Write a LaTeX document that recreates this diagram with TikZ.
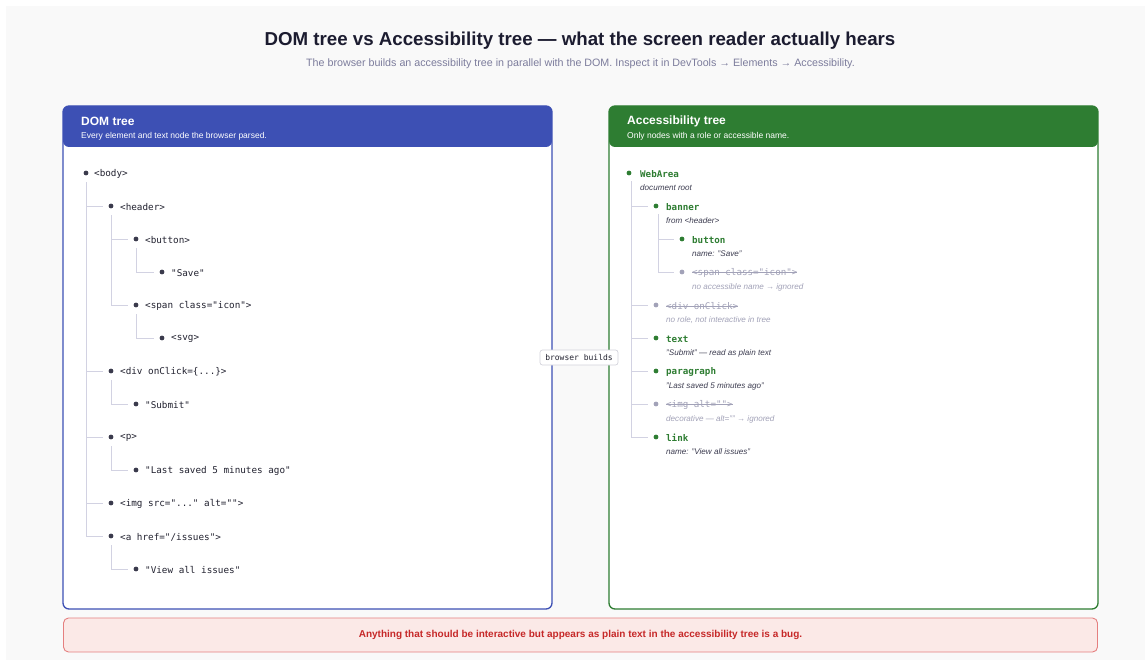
\documentclass[tikz,border=0pt]{standalone}
\usepackage{fontspec}
\setmainfont{Liberation Sans}
\newfontfamily\codefont{DejaVu Sans Mono}
\usetikzlibrary{calc}

% text with a line drawn through it
\newcommand\struckthrough[1]{\setbox0\hbox{#1}\rlap{\rule[0.3em]{\wd0}{0.07em}}\box0}

\definecolor{pagebg}{HTML}{F9F9F9}
\definecolor{titleink}{HTML}{1C1C30}
\definecolor{subink}{HTML}{7C7C9C}
\definecolor{domblue}{HTML}{3D50B4}
\definecolor{axgreen}{HTML}{2E7D32}
\definecolor{treeline}{HTML}{D2D2E2}
\definecolor{dotink}{HTML}{3A3A4C}
\definecolor{codeink}{HTML}{222230}
\definecolor{noteink}{HTML}{3C3C50}
\definecolor{ignored}{HTML}{A2A2B8}
\definecolor{warnfill}{HTML}{FBE9E7}
\definecolor{warnline}{HTML}{E57F7F}
\definecolor{warnink}{HTML}{C62828}
\definecolor{tagline}{HTML}{D4D4DC}

\begin{document}
\begin{tikzpicture}[x=1pt,y=-1pt,
  panel/.style={draw=#1, line width=1.3pt, fill=white, rounded corners=6pt,
    minimum width=489pt, minimum height=503pt, inner sep=0pt,
    path picture={\fill[#1] (path picture bounding box.north west)
      rectangle ([yshift=-41pt]path picture bounding box.north east);}},
  headtitle/.style={anchor=west, inner sep=0pt, text=white, font=\fontsize{12}{14}\selectfont\bfseries},
  headsub/.style={anchor=west, inner sep=0pt, text=white, font=\fontsize{8.5}{10}\selectfont},
  dot/.style={circle, fill=#1, inner sep=0pt, minimum size=4.8pt, outer sep=0pt},
  dot/.default=dotink,
  code/.style={anchor=west, inner sep=0pt, yshift=-1pt, text=codeink, font=\codefont\fontsize{9.3}{11}\selectfont},
  role/.style={anchor=west, inner sep=0pt, yshift=-1pt, text=axgreen, font=\codefont\fontsize{9.2}{11}\selectfont\bfseries},
  gone/.style={anchor=west, inner sep=0pt, yshift=-1pt, text=ignored, font=\codefont\fontsize{9.2}{11}\selectfont},
  note/.style={anchor=west, inner sep=0pt, yshift=-1pt, text=noteink, font=\fontsize{8.1}{10}\selectfont\itshape},
  gonenote/.style={note, text=ignored},
  branch/.style={draw=treeline, line width=0.9pt},
]
\useasboundingbox (0,0) rectangle (1145,660);
\fill[pagebg] (6,6) rectangle (1145,660);

% heading
\node[text=titleink, font=\fontsize{18.7}{22}\selectfont\bfseries] (title) at (580,40.5)
  {DOM tree vs Accessibility tree — what the screen reader actually hears};
\node[text=subink, font=\fontsize{10.7}{12}\selectfont] (subtitle) at (580.5,64)
  {The browser builds an accessibility tree in parallel with the DOM. Inspect it in DevTools → Elements → Accessibility.};

% the two panels
\node[panel=domblue] (dompanel) at (307.5,357.5) {};
\node[panel=axgreen] (axpanel) at (853.5,357.5) {};
\node[headtitle] (domtitle) at (81,121) {DOM tree};
\node[headsub] (domsub) at (81,136) {Every element and text node the browser parsed.};
\node[headtitle] (axtitle) at (627,121) {Accessibility tree};
\node[headsub] (axsub) at (627,136) {Only nodes with a role or accessible name.};

% DOM tree: bullets and tags
\node[dot] (dbody) at (86,173) {};   \node[code] at (94,173) {<body>};
\node[dot] (dhead) at (111,206) {};  \node[code] at (120,206) {<header>};
\node[dot] (dbtn) at (136,239) {};   \node[code] at (145,239) {<button>};
\node[dot] (dsave) at (162,272) {};  \node[code] at (171,272) {"Save"};
\node[dot] (dspan) at (136,305) {};  \node[code] at (145,305) {<span class="icon">};
\node[dot] (dsvg) at (162,338) {};   \node[code] at (171,338) {<svg>};
\node[dot] (ddiv) at (111,371) {};   \node[code] at (120,371) {<div onClick=\{...\}>};
\node[dot] (dsub) at (136,404) {};   \node[code] at (145,404) {"Submit"};
\node[dot] (dp) at (111,437) {};     \node[code] at (120,437) {<p>};
\node[dot] (dlast) at (136,470) {};  \node[code] at (145,470) {"Last saved 5 minutes ago"};
\node[dot] (dimg) at (111,503) {};   \node[code] at (120,503) {<img src="..." alt="">};
\node[dot] (da) at (111,536) {};     \node[code] at (120,536) {<a href="/issues">};
\node[dot] (dview) at (136,569) {};  \node[code] at (145,569) {"View all issues"};

% DOM tree: parent-to-child elbows
\foreach \p/\c in {dbody/dhead, dbody/ddiv, dbody/dp, dbody/dimg, dbody/da,
                   dhead/dbtn, dhead/dspan, dbtn/dsave, dspan/dsvg,
                   ddiv/dsub, dp/dlast, da/dview}
  \draw[branch] ([yshift=-7pt]\p.south) |- ([xshift=-6pt]\c.west);

% accessibility tree: bullets, roles and notes
\node[dot=axgreen] (aroot) at (629,173) {};
\node[role] at (640,173) {WebArea};
\node[note] at (640,187) {document root};
\node[dot=axgreen] (abanner) at (656,206) {};
\node[role] at (666,206) {banner};
\node[note] at (666,220) {from <header>};
\node[dot=axgreen] (abtn) at (682,239) {};
\node[role] at (692,239) {button};
\node[note] at (692,253) {name: "Save"};
\node[dot=ignored] (aspan) at (682,272) {};
\node[gone] at (692,272) {\struckthrough{<span class="icon">}};
\node[gonenote] at (692,286) {no accessible name → ignored};
\node[dot=ignored] (adiv) at (656,305) {};
\node[gone] at (666,305) {\struckthrough{<div onClick>}};
\node[gonenote] at (666,319) {no role, not interactive in tree};
\node[dot=axgreen] (atext) at (656,338) {};
\node[role] at (666,338) {text};
\node[note] at (666,352) {"Submit" — read as plain text};
\node[dot=axgreen] (apara) at (656,371) {};
\node[role] at (666,371) {paragraph};
\node[note] at (666,385) {"Last saved 5 minutes ago"};
\node[dot=ignored] (aimg) at (656,404) {};
\node[gone] at (666,404) {\struckthrough{<img alt="">}};
\node[gonenote] at (666,418) {decorative — alt="" → ignored};
\node[dot=axgreen] (alink) at (656,437) {};
\node[role] at (666,437) {link};
\node[note] at (666,451) {name: "View all issues"};

% accessibility tree: elbows
\foreach \p/\c in {aroot/abanner, aroot/adiv, aroot/atext, aroot/apara, aroot/aimg, aroot/alink,
                   abanner/abtn, abanner/aspan}
  \draw[branch] ([xshift=2.5pt,yshift=-6pt]\p.south) |- ([xshift=-6pt]\c.west);

% label between the panels
\node[draw=tagline, line width=0.7pt, fill=white, rounded corners=2.5pt,
      minimum width=78pt, minimum height=15pt, inner sep=0pt,
      font=\codefont\fontsize{8}{10}\selectfont, text=codeink] (builds) at (579,357.5) {browser builds};

% closing note
\node[draw=warnline, line width=0.9pt, fill=warnfill, rounded corners=5pt,
      minimum width=1034pt, minimum height=34pt, inner sep=0pt,
      text=warnink, font=\fontsize{10}{12}\selectfont\bfseries] (warning) at (580.5,635)
  {Anything that should be interactive but appears as plain text in the accessibility tree is a bug.};
\end{tikzpicture}
\end{document}
